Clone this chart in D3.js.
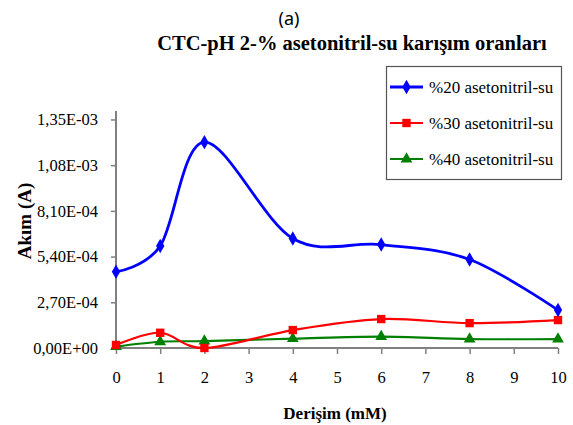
<!DOCTYPE html>
<html>
<head>
<meta charset="utf-8">
<script src="https://cdn.jsdelivr.net/npm/d3@7"></script>
<style>
  html, body { margin: 0; padding: 0; background: #fff; }
  svg { display: block; }
</style>
</head>
<body>
<svg id="chart" width="573" height="425"></svg>
<script>
// Concentration (mM) and measured current (A) for each acetonitrile-water ratio
const concentrations = [0, 1, 2, 4, 6, 8, 10];
const acn20 = [4.50e-4, 6.03e-4, 1.216e-3, 6.47e-4, 6.11e-4, 5.23e-4, 2.24e-4];
const acn30 = [1.8e-5, 9.0e-5, 0.0, 1.06e-4, 1.71e-4, 1.47e-4, 1.65e-4];
const acn40 = [8e-6, 3.7e-5, 4.1e-5, 5.5e-5, 6.7e-5, 5.3e-5, 5.3e-5];
const seriesNames = ["%20 asetonitril-su", "%30 asetonitril-su", "%40 asetonitril-su"];
const xTicks = [0, 1, 2, 3, 4, 5, 6, 7, 8, 9, 10];
const yTicks = [0, 2.7e-4, 5.4e-4, 8.1e-4, 1.08e-3, 1.35e-3];
const yTickLabels = ["0,00E+00", "2,70E-04", "5,40E-04", "8,10E-04", "1,08E-03", "1,35E-03"];

const svg = d3.select("#chart");
const serif = "'Liberation Serif', 'Times New Roman', serif";
const axisGray = "#808080";

const x = d3.scaleLinear().domain([0, 10]).range([116, 558]);
const y = d3.scaleLinear().domain([0, 1.4e-3]).range([348, 111]);

// Panel letter and title
svg.append("text")
  .attr("x", 289).attr("y", 25)
  .attr("text-anchor", "middle")
  .style("font-family", "'Noto Sans', 'Open Sans', sans-serif")
  .style("font-size", "18px")
  .text("(a)");

svg.append("text")
  .attr("x", 352).attr("y", 50)
  .attr("text-anchor", "middle")
  .style("font-family", serif)
  .style("font-weight", "bold")
  .style("font-size", "20.5px")
  .text("CTC-pH 2-% asetonitril-su karışım oranları");

// Axes
const yAxis = d3.axisLeft(y)
  .tickValues(yTicks)
  .tickFormat((d, i) => yTickLabels[i])
  .tickSize(5)
  .tickPadding(13);

const gy = svg.append("g").attr("transform", `translate(${x(0)},0)`).call(yAxis);
gy.select(".domain").attr("d", `M0,${y.range()[1]}V${y.range()[0]}`);

const xAxis = d3.axisBottom(x)
  .tickValues(xTicks)
  .tickFormat(d3.format("d"))
  .tickSize(6)
  .tickPadding(17);

const gx = svg.append("g").attr("transform", `translate(0,${y(0)})`).call(xAxis);
gx.select(".domain").attr("d", `M${x.range()[0]},0H${x.range()[1]}`);

[gx, gy].forEach(g => {
  g.selectAll(".domain").attr("stroke", axisGray).attr("stroke-width", 2);
  g.selectAll(".tick line").attr("stroke", axisGray).attr("stroke-width", 1.5);
  g.selectAll(".tick text")
    .attr("fill", "#000")
    .style("font-family", serif)
    .style("font-size", "16.5px");
});

// Axis titles
svg.append("text")
  .attr("transform", "translate(31,221) rotate(-90)")
  .attr("text-anchor", "middle")
  .style("font-family", serif)
  .style("font-weight", "bold")
  .style("font-size", "19px")
  .text("Akım (A)");

svg.append("text")
  .attr("x", 335).attr("y", 419)
  .attr("text-anchor", "middle")
  .style("font-family", serif)
  .style("font-weight", "bold")
  .style("font-size", "17px")
  .text("Derişim (mM)");

// Series
const series = [
  { name: seriesNames[0], values: acn20, color: "#0000ff", symbol: d3.symbolDiamond, size: 60, width: 2.8 },
  { name: seriesNames[1], values: acn30, color: "#ff0000", symbol: d3.symbolSquare, size: 70, width: 2.2 },
  { name: seriesNames[2], values: acn40, color: "#008000", symbol: d3.symbolTriangle, size: 60, width: 2.2 }
];

const line = d3.line()
  .x(d => x(d[0]))
  .y(d => y(d[1]))
  .curve(d3.curveCardinal.tension(0));

// Draw lower series first so the blue curve stays on top
series.slice().reverse().forEach(s => {
  const pts = concentrations.map((c, i) => [c, s.values[i]]);
  svg.append("path")
    .datum(pts)
    .attr("fill", "none")
    .attr("stroke", s.color)
    .attr("stroke-width", s.width)
    .attr("stroke-linejoin", "round")
    .attr("d", line);
  svg.append("g").selectAll("path")
    .data(pts)
    .join("path")
    .attr("transform", d => `translate(${x(d[0])},${y(d[1])})`)
    .attr("d", d3.symbol().type(s.symbol).size(s.size))
    .attr("fill", s.color);
});

// Legend
const legend = svg.append("g");
legend.append("rect")
  .attr("x", 386.5).attr("y", 66.5)
  .attr("width", 175).attr("height", 113)
  .attr("fill", "#fff")
  .attr("stroke", "#555")
  .attr("stroke-width", 1.2);

const rowY = [87, 123, 159];
series.forEach((s, i) => {
  const g = legend.append("g").attr("transform", `translate(0,${rowY[i]})`);
  g.append("line")
    .attr("x1", 390).attr("x2", 423)
    .attr("y1", 0).attr("y2", 0)
    .attr("stroke", s.color).attr("stroke-width", s.width);
  g.append("path")
    .attr("transform", "translate(406.5,0)")
    .attr("d", d3.symbol().type(s.symbol).size(s.size))
    .attr("fill", s.color);
  g.append("text")
    .attr("x", 429).attr("y", 5.5)
    .style("font-family", serif)
    .style("font-size", "17px")
    .text(s.name);
});
</script>
</body>
</html>
